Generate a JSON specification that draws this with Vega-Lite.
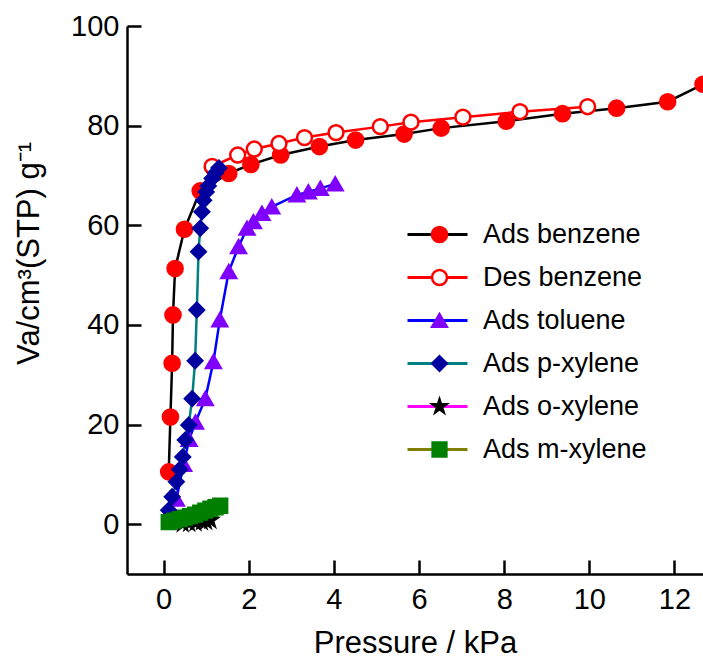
{
  "$schema": "https://vega.github.io/schema/vega-lite/v6.json",
  "width": 576,
  "height": 548,
  "autosize": "none",
  "padding": {"left": 127, "top": 26, "right": 0, "bottom": 87},
  "config": {
    "view": {"stroke": null},
    "font": "Liberation Sans",
    "axis": {
      "grid": false,
      "domainColor": "black",
      "domainWidth": 2.5,
      "tickColor": "black",
      "tickWidth": 2.5,
      "tickSize": -14,
      "labelColor": "black",
      "labelFont": "Liberation Sans",
      "labelFontSize": 29,
      "titleColor": "black",
      "titleFont": "Liberation Sans",
      "titleFontSize": 31,
      "titleFontWeight": "normal"
    },
    "legend": {
      "labelFont": "Liberation Sans",
      "labelColor": "black",
      "labelFontSize": 27,
      "labelLimit": 400,
      "padding": 0
    }
  },
  "data": {
    "values": [
      {"series": "Ads benzene", "p": 0.12, "v": 10.5},
      {"series": "Ads benzene", "p": 0.16, "v": 21.5},
      {"series": "Ads benzene", "p": 0.2, "v": 32.3},
      {"series": "Ads benzene", "p": 0.22, "v": 42},
      {"series": "Ads benzene", "p": 0.27, "v": 51.3},
      {"series": "Ads benzene", "p": 0.49, "v": 59.2},
      {"series": "Ads benzene", "p": 0.86, "v": 66.9},
      {"series": "Ads benzene", "p": 1.53, "v": 70.4},
      {"series": "Ads benzene", "p": 2.05, "v": 72.2},
      {"series": "Ads benzene", "p": 2.75, "v": 74.1},
      {"series": "Ads benzene", "p": 3.66, "v": 75.8},
      {"series": "Ads benzene", "p": 4.51, "v": 77.1},
      {"series": "Ads benzene", "p": 5.65, "v": 78.3},
      {"series": "Ads benzene", "p": 6.52, "v": 79.5},
      {"series": "Ads benzene", "p": 8.05, "v": 80.9},
      {"series": "Ads benzene", "p": 9.37, "v": 82.4},
      {"series": "Ads benzene", "p": 10.64, "v": 83.5},
      {"series": "Ads benzene", "p": 11.84, "v": 84.8},
      {"series": "Ads benzene", "p": 12.67, "v": 88.3},
      {"series": "Des benzene", "p": 1.14, "v": 71.8},
      {"series": "Des benzene", "p": 1.74, "v": 74.1},
      {"series": "Des benzene", "p": 2.13, "v": 75.3},
      {"series": "Des benzene", "p": 2.71, "v": 76.4},
      {"series": "Des benzene", "p": 3.31, "v": 77.6},
      {"series": "Des benzene", "p": 4.05, "v": 78.6},
      {"series": "Des benzene", "p": 5.09, "v": 79.8},
      {"series": "Des benzene", "p": 5.81, "v": 80.7},
      {"series": "Des benzene", "p": 7.03, "v": 81.7},
      {"series": "Des benzene", "p": 8.37, "v": 82.8},
      {"series": "Des benzene", "p": 9.96, "v": 83.8},
      {"series": "Ads toluene", "p": 0.3, "v": 5},
      {"series": "Ads toluene", "p": 0.47, "v": 12},
      {"series": "Ads toluene", "p": 0.6, "v": 17},
      {"series": "Ads toluene", "p": 0.75, "v": 20.5},
      {"series": "Ads toluene", "p": 0.98, "v": 25.2},
      {"series": "Ads toluene", "p": 1.17, "v": 32.6},
      {"series": "Ads toluene", "p": 1.32, "v": 41},
      {"series": "Ads toluene", "p": 1.53, "v": 50.7},
      {"series": "Ads toluene", "p": 1.76, "v": 55.7},
      {"series": "Ads toluene", "p": 1.96, "v": 59.4},
      {"series": "Ads toluene", "p": 2.11, "v": 60.7},
      {"series": "Ads toluene", "p": 2.31, "v": 62.4},
      {"series": "Ads toluene", "p": 2.54, "v": 63.7},
      {"series": "Ads toluene", "p": 3.13, "v": 66.1},
      {"series": "Ads toluene", "p": 3.4, "v": 66.7},
      {"series": "Ads toluene", "p": 3.68, "v": 67.4},
      {"series": "Ads toluene", "p": 4.03, "v": 68.3},
      {"series": "Ads p-xylene", "p": 0.12, "v": 2.8},
      {"series": "Ads p-xylene", "p": 0.2, "v": 5.5},
      {"series": "Ads p-xylene", "p": 0.3, "v": 8.5},
      {"series": "Ads p-xylene", "p": 0.38, "v": 11},
      {"series": "Ads p-xylene", "p": 0.45, "v": 13.5},
      {"series": "Ads p-xylene", "p": 0.51, "v": 16.9},
      {"series": "Ads p-xylene", "p": 0.59, "v": 19.9},
      {"series": "Ads p-xylene", "p": 0.67, "v": 25.2},
      {"series": "Ads p-xylene", "p": 0.74, "v": 32.8},
      {"series": "Ads p-xylene", "p": 0.78, "v": 43},
      {"series": "Ads p-xylene", "p": 0.82, "v": 54.7},
      {"series": "Ads p-xylene", "p": 0.86, "v": 59.4},
      {"series": "Ads p-xylene", "p": 0.9, "v": 62.7},
      {"series": "Ads p-xylene", "p": 0.94, "v": 65},
      {"series": "Ads p-xylene", "p": 1.0, "v": 66.7},
      {"series": "Ads p-xylene", "p": 1.05, "v": 67.9},
      {"series": "Ads p-xylene", "p": 1.14, "v": 69.4},
      {"series": "Ads p-xylene", "p": 1.22, "v": 70.5},
      {"series": "Ads p-xylene", "p": 1.3, "v": 71.5},
      {"series": "Ads o-xylene", "p": 0.45, "v": 0.1},
      {"series": "Ads o-xylene", "p": 0.6, "v": 0.2},
      {"series": "Ads o-xylene", "p": 0.75, "v": 0.3},
      {"series": "Ads o-xylene", "p": 0.9, "v": 0.5},
      {"series": "Ads o-xylene", "p": 1.0, "v": 0.6},
      {"series": "Ads o-xylene", "p": 1.1, "v": 0.8},
      {"series": "Ads m-xylene", "p": 0.12, "v": 0.4},
      {"series": "Ads m-xylene", "p": 0.25, "v": 0.7},
      {"series": "Ads m-xylene", "p": 0.38, "v": 1.0},
      {"series": "Ads m-xylene", "p": 0.5, "v": 1.3},
      {"series": "Ads m-xylene", "p": 0.62, "v": 1.6},
      {"series": "Ads m-xylene", "p": 0.74, "v": 1.9},
      {"series": "Ads m-xylene", "p": 0.86, "v": 2.3},
      {"series": "Ads m-xylene", "p": 0.98, "v": 2.7},
      {"series": "Ads m-xylene", "p": 1.1, "v": 3.1},
      {"series": "Ads m-xylene", "p": 1.22, "v": 3.4},
      {"series": "Ads m-xylene", "p": 1.33, "v": 3.7}
    ]
  },
  "encoding": {
    "x": {
      "field": "p",
      "type": "quantitative",
      "scale": {"domain": [-0.86, 12.67], "nice": false, "zero": false},
      "axis": {
        "values": [0, 2, 4, 6, 8, 10, 12],
        "title": "Pressure / kPa",
        "labelPadding": 25,
        "titleY": 78,
        "titleBaseline": "alphabetic"
      }
    },
    "y": {
      "field": "v",
      "type": "quantitative",
      "scale": {"domain": [-10, 100], "nice": false, "zero": false},
      "axis": {
        "values": [0, 20, 40, 60, 80, 100],
        "title": "Va/cm³(STP) g⁻¹",
        "labelPadding": 22,
        "titleX": -89,
        "titleY": 227,
        "titleAngle": -90,
        "titleAlign": "center",
        "titleBaseline": "alphabetic"
      }
    }
  },
  "layer": [
    {
      "mark": {"type": "line", "strokeWidth": 2.5},
      "encoding": {
        "color": {
          "field": "series",
          "type": "nominal",
          "scale": {
            "domain": ["Ads benzene", "Des benzene", "Ads toluene", "Ads p-xylene", "Ads o-xylene", "Ads m-xylene"],
            "range": ["#000000", "#FF0000", "#0000FF", "#008080", "#FF00FF", "#808000"]
          },
          "legend": {
            "orient": "none",
            "legendX": 297,
            "legendY": 195,
            "title": null,
            "symbolType": "M-3,0H3",
            "symbolSize": 400,
            "symbolStrokeWidth": 3,
            "labelOffset": 30,
            "rowPadding": 15,
            "labelOpacity": 0,
            "zindex": 0
          }
        }
      }
    },
    {
      "mark": {"type": "point", "filled": true, "opacity": 1, "strokeWidth": 2.5},
      "encoding": {
        "color": {
          "field": "series",
          "type": "nominal",
          "scale": {
            "domain": ["Ads benzene", "Des benzene", "Ads toluene", "Ads p-xylene", "Ads o-xylene", "Ads m-xylene"],
            "range": ["#FF0000", "#FFFFFF", "#7F00FF", "#00009F", "#000000", "#007F00"]
          },
          "legend": {
            "orient": "none",
            "legendX": 299,
            "legendY": 195,
            "title": null,
            "labelOffset": 30,
            "rowPadding": 15,
            "symbolSize": 260,
            "symbolStrokeWidth": 2.5,
            "symbolOpacity": 1,
            "zindex": 1
          }
        },
        "shape": {
          "field": "series",
          "type": "nominal",
          "scale": {
            "domain": ["Ads benzene", "Des benzene", "Ads toluene", "Ads p-xylene", "Ads o-xylene", "Ads m-xylene"],
            "range": ["circle", "circle", "triangle-up", "diamond", "M0,-1L0.223,-0.307L0.951,-0.309L0.361,0.117L0.588,0.809L0,0.38L-0.588,0.809L-0.361,0.117L-0.951,-0.309L-0.223,-0.307Z", "square"]
          },
          "legend": {
            "orient": "none",
            "legendX": 299,
            "legendY": 195,
            "title": null,
            "labelOffset": 30,
            "rowPadding": 15,
            "symbolSize": 260,
            "symbolStrokeWidth": 2.5,
            "symbolOpacity": 1,
            "zindex": 1
          }
        },
        "stroke": {
          "field": "series",
          "type": "nominal",
          "scale": {
            "domain": ["Ads benzene", "Des benzene", "Ads toluene", "Ads p-xylene", "Ads o-xylene", "Ads m-xylene"],
            "range": ["#FF0000", "#FF0000", "#7F00FF", "#00009F", "#000000", "#007F00"]
          },
          "legend": {
            "orient": "none",
            "legendX": 299,
            "legendY": 195,
            "title": null,
            "labelOffset": 30,
            "rowPadding": 15,
            "symbolSize": 260,
            "symbolStrokeWidth": 2.5,
            "symbolOpacity": 1,
            "zindex": 1
          }
        },
        "size": {
          "field": "series",
          "type": "nominal",
          "scale": {
            "domain": ["Ads benzene", "Des benzene", "Ads toluene", "Ads p-xylene", "Ads o-xylene", "Ads m-xylene"],
            "range": [230, 190, 250, 250, 90, 140]
          },
          "legend": null
        }
      }
    }
  ],
  "resolve": {"scale": {"color": "independent", "shape": "independent", "stroke": "independent", "size": "independent"}}
}
